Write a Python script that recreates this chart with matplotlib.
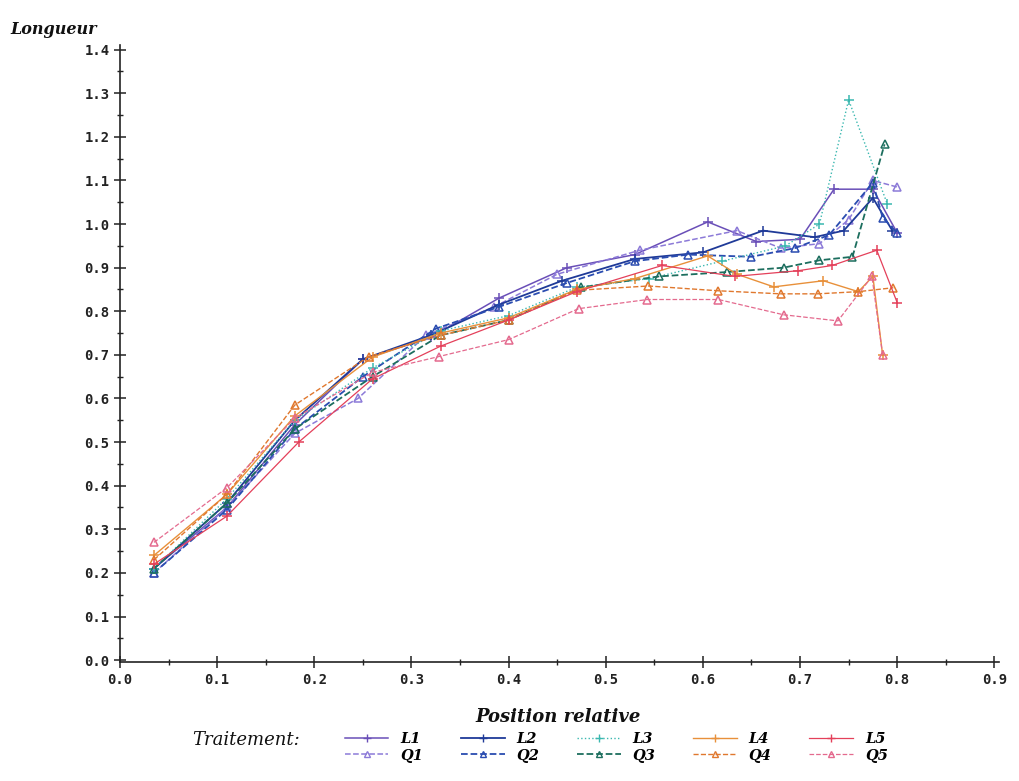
import matplotlib
matplotlib.use("Agg")
import matplotlib.pyplot as plt
from matplotlib.lines import Line2D
from matplotlib.ticker import MultipleLocator

# ---- data ----
L1_x = [0.035, 0.11, 0.18, 0.25, 0.32, 0.39, 0.46, 0.53, 0.605, 0.655, 0.70, 0.735, 0.775, 0.80]
L1_y = [0.21, 0.35, 0.54, 0.69, 0.74, 0.83, 0.90, 0.93, 1.005, 0.96, 0.965, 1.08, 1.08, 0.98]
Q1_x = [0.035, 0.11, 0.18, 0.245, 0.315, 0.385, 0.45, 0.535, 0.635, 0.68, 0.72, 0.75, 0.775, 0.80]
Q1_y = [0.20, 0.35, 0.52, 0.60, 0.745, 0.81, 0.885, 0.94, 0.985, 0.945, 0.955, 1.01, 1.10, 1.085]
L2_x = [0.035, 0.11, 0.18, 0.25, 0.32, 0.39, 0.455, 0.53, 0.60, 0.662, 0.715, 0.745, 0.775, 0.795]
L2_y = [0.21, 0.36, 0.55, 0.69, 0.745, 0.815, 0.87, 0.92, 0.935, 0.985, 0.97, 0.985, 1.06, 0.985]
Q2_x = [0.035, 0.11, 0.18, 0.25, 0.325, 0.39, 0.46, 0.53, 0.585, 0.65, 0.695, 0.73, 0.775, 0.785, 0.80]
Q2_y = [0.20, 0.345, 0.53, 0.65, 0.76, 0.81, 0.865, 0.915, 0.93, 0.925, 0.945, 0.975, 1.095, 1.015, 0.98]
L3_x = [0.035, 0.11, 0.18, 0.26, 0.33, 0.40, 0.47, 0.545, 0.62, 0.685, 0.72, 0.75, 0.79]
L3_y = [0.21, 0.37, 0.55, 0.67, 0.755, 0.79, 0.855, 0.875, 0.915, 0.95, 1.00, 1.285, 1.045]
Q3_x = [0.035, 0.11, 0.18, 0.26, 0.33, 0.40, 0.475, 0.555, 0.625, 0.683, 0.72, 0.754, 0.787]
Q3_y = [0.21, 0.36, 0.53, 0.65, 0.745, 0.78, 0.855, 0.88, 0.89, 0.90, 0.917, 0.925, 1.183]
L4_x = [0.035, 0.11, 0.18, 0.26, 0.33, 0.40, 0.47, 0.53, 0.605, 0.635, 0.673, 0.724, 0.76, 0.775, 0.785]
L4_y = [0.24, 0.38, 0.56, 0.695, 0.75, 0.785, 0.85, 0.875, 0.927, 0.885, 0.856, 0.87, 0.845, 0.88, 0.70]
Q4_x = [0.035, 0.11, 0.18, 0.256, 0.33, 0.40, 0.47, 0.544, 0.616, 0.68, 0.718, 0.76, 0.796]
Q4_y = [0.23, 0.38, 0.585, 0.696, 0.745, 0.78, 0.848, 0.858, 0.847, 0.84, 0.84, 0.845, 0.854]
L5_x = [0.035, 0.11, 0.184, 0.26, 0.33, 0.40, 0.47, 0.558, 0.633, 0.698, 0.733, 0.779, 0.80]
L5_y = [0.22, 0.33, 0.50, 0.645, 0.72, 0.78, 0.845, 0.905, 0.88, 0.893, 0.905, 0.94, 0.82]
Q5_x = [0.035, 0.11, 0.18, 0.26, 0.328, 0.40, 0.472, 0.543, 0.616, 0.683, 0.739, 0.774, 0.785]
Q5_y = [0.27, 0.395, 0.555, 0.66, 0.696, 0.735, 0.806, 0.827, 0.827, 0.792, 0.778, 0.88, 0.70]

x_ticks = [0.0, 0.1, 0.2, 0.3, 0.4, 0.5, 0.6, 0.7, 0.8, 0.9]
y_ticks = [0.0, 0.1, 0.2, 0.3, 0.4, 0.5, 0.6, 0.7, 0.8, 0.9, 1.0, 1.1, 1.2, 1.3, 1.4]

series = [
    ("L1", L1_x, L1_y, "#6a4fb8", "-", "+", 1.1),
    ("Q1", Q1_x, Q1_y, "#8c7ad8", "--", "^", 1.1),
    ("L2", L2_x, L2_y, "#1f3a98", "-", "+", 1.3),
    ("Q2", Q2_x, Q2_y, "#2a4cb0", "--", "^", 1.3),
    ("L3", L3_x, L3_y, "#3bb8b0", ":", "+", 1.0),
    ("Q3", Q3_x, Q3_y, "#1c6e5e", "--", "^", 1.3),
    ("L4", L4_x, L4_y, "#e8903a", "-", "+", 1.0),
    ("Q4", Q4_x, Q4_y, "#e0782e", "--", "^", 1.0),
    ("L5", L5_x, L5_y, "#e4405a", "-", "+", 0.9),
    ("Q5", Q5_x, Q5_y, "#e46a8e", "--", "^", 0.9),
]

fig = plt.figure(figsize=(10.2, 7.81), dpi=100)
fig.patch.set_facecolor("white")
ax = fig.add_axes([0.1176, 0.152, 0.862, 0.79])

for name, xs, ys, col, ls, mk, lw in series:
    ax.plot(xs, ys, color=col, linestyle=ls, linewidth=lw,
            marker=mk, markersize=7 if mk == "+" else 6,
            markerfacecolor="none", markeredgecolor=col, markeredgewidth=1.1)

ax.set_xlim(0.0, 0.905)
ax.set_ylim(-0.005, 1.41)
ax.set_xticks(x_ticks)
ax.set_yticks(y_ticks)
ax.xaxis.set_minor_locator(MultipleLocator(0.05))
ax.yaxis.set_minor_locator(MultipleLocator(0.05))
ax.set_xticklabels([f"{v:.1f}" for v in x_ticks], fontfamily="DejaVu Sans Mono",
                   fontsize=10, fontweight="bold", color="#333333")
ax.set_yticklabels([f"{v:.1f}" for v in y_ticks], fontfamily="DejaVu Sans Mono",
                   fontsize=10, fontweight="bold", color="#333333")
ax.tick_params(which="major", direction="inout", length=8, width=1.1, colors="#222222")
ax.tick_params(which="minor", direction="inout", length=5, width=1.0, colors="#222222")
for s in ("top", "right"):
    ax.spines[s].set_visible(False)
for s in ("left", "bottom"):
    ax.spines[s].set_linewidth(1.2)
    ax.spines[s].set_color("#222222")

fig.text(0.010, 0.962, "Longueur", fontfamily="DejaVu Serif", style="italic",
         fontweight="bold", fontsize=11.5, color="#111111", ha="left", va="center")
fig.text(0.547, 0.082, "Position relative", fontfamily="DejaVu Serif", style="italic",
         fontweight="bold", fontsize=13, color="#111111", ha="center", va="center")
fig.text(0.188, 0.052, "Traitement:", fontfamily="DejaVu Serif", style="italic",
         fontsize=13, color="#111111", ha="left", va="center")

handles = []
for name, xs, ys, col, ls, mk, lw in series:
    handles.append(Line2D([0], [0], color=col, linestyle=ls, linewidth=lw, marker=mk,
                          markersize=6 if mk == "+" else 4.5, markerfacecolor="none",
                          markeredgecolor=col, label=name))
fig.legend(handles=handles, ncol=5, loc="center left", bbox_to_anchor=(0.325, 0.043),
           frameon=False, handlelength=3.0, columnspacing=2.6, handletextpad=0.8,
           labelspacing=0.15, markerscale=1.0,
           prop={"family": "DejaVu Serif", "style": "italic", "weight": "bold", "size": 10.5})

fig.savefig("out.png", dpi=100, facecolor="white")
